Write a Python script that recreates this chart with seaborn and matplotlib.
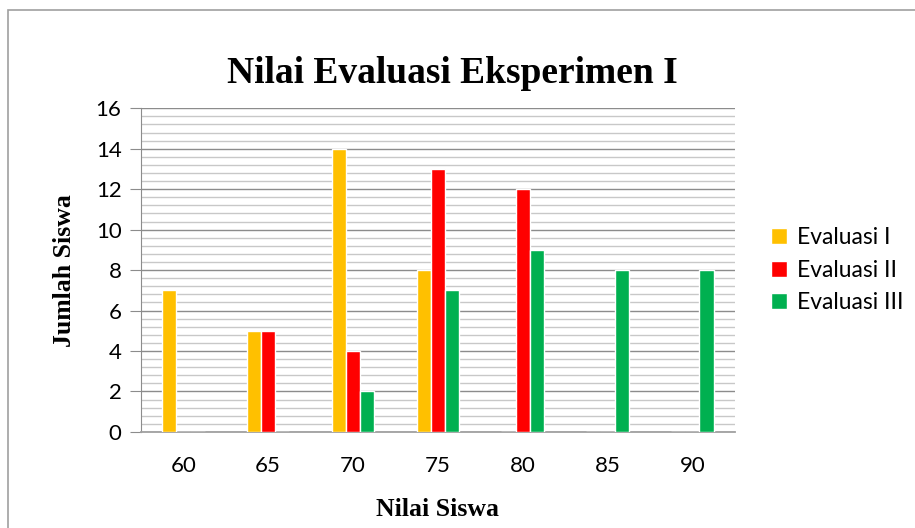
import pandas as pd
import numpy as np
import matplotlib.pyplot as plt
import seaborn as sns
from matplotlib.patches import Rectangle
from matplotlib.ticker import MultipleLocator

# data
nilai = ['60', '65', '70', '75', '80', '85', '90']
evaluasi_1 = [7, 5, 14, 8, 0, 0, 0]
evaluasi_2 = [0, 5, 4, 13, 12, 0, 0]
evaluasi_3 = [0, 0, 2, 7, 9, 8, 8]
series_names = ['Evaluasi I', 'Evaluasi II', 'Evaluasi III']
colors = ['#FFC000', '#FF0000', '#00B050']

df = pd.DataFrame({
    'nilai': nilai * 3,
    'jumlah': evaluasi_1 + evaluasi_2 + evaluasi_3,
    'seri': [s for s in series_names for _ in nilai],
})

sns.set_style('white')
plt.rcParams['font.family'] = ['Lato', 'DejaVu Sans']
plt.rcParams['text.color'] = 'black'
plt.rcParams['axes.labelcolor'] = 'black'
plt.rcParams['xtick.labelcolor'] = 'black'
plt.rcParams['ytick.labelcolor'] = 'black'

fig = plt.figure(figsize=(9.15, 5.28), dpi=100)
ax = fig.add_axes([0.154, 0.182, 0.649, 0.613])

sns.barplot(data=df, x='nilai', y='jumlah', hue='seri', palette=colors,
            width=0.5, ax=ax, saturation=1, zorder=3)

ax.set_ylim(0, 16)
ax.yaxis.set_major_locator(MultipleLocator(2))
ax.yaxis.set_minor_locator(MultipleLocator(0.4))
ax.grid(axis='y', which='major', color='#8c8c8c', lw=1.0, zorder=0)
ax.grid(axis='y', which='minor', color='#c8c8c8', lw=1.0, zorder=0)
ax.set_axisbelow(True)

for s in ['top', 'right']:
    ax.spines[s].set_visible(False)
ax.spines['left'].set_color('#8c8c8c')
ax.spines['bottom'].set_color('#a0a0a0')
ax.spines['bottom'].set_linewidth(1.3)

ax.tick_params(axis='y', which='major', left=True, length=8, color='#8c8c8c',
               labelsize=16, pad=6, labelcolor='black')
ax.tick_params(axis='y', which='minor', left=False)
ax.tick_params(axis='x', bottom=False, labelsize=16, pad=14, labelcolor='black')

ax.set_xlabel('Nilai Siswa', family='Liberation Serif', fontweight='bold',
              fontsize=18.5, labelpad=16, color='black')
ax.set_ylabel('Jumlah Siswa', family='Liberation Serif', fontweight='bold',
              fontsize=18.5, labelpad=14, color='black')
fig.text(0.494, 0.86, 'Nilai Evaluasi Eksperimen I', family='Liberation Serif',
         fontweight='bold', fontsize=27, ha='center', va='center', color='black')

handles, labels = ax.get_legend_handles_labels()
leg = ax.legend(handles, labels, loc='center left', bbox_to_anchor=(1.045, 0.5),
                frameon=False, fontsize=16.5, handlelength=0.7, handleheight=0.7,
                handletextpad=0.45, labelspacing=0.5, borderaxespad=0)
for t in leg.get_texts():
    t.set_color('black')

fig.patches.append(Rectangle((0.009, -0.02), 1.0, 0.01 + 0.9905, transform=fig.transFigure,
                             fill=False, edgecolor='#a0a0a0', lw=1.2))

fig.savefig('out.png', dpi=100)
